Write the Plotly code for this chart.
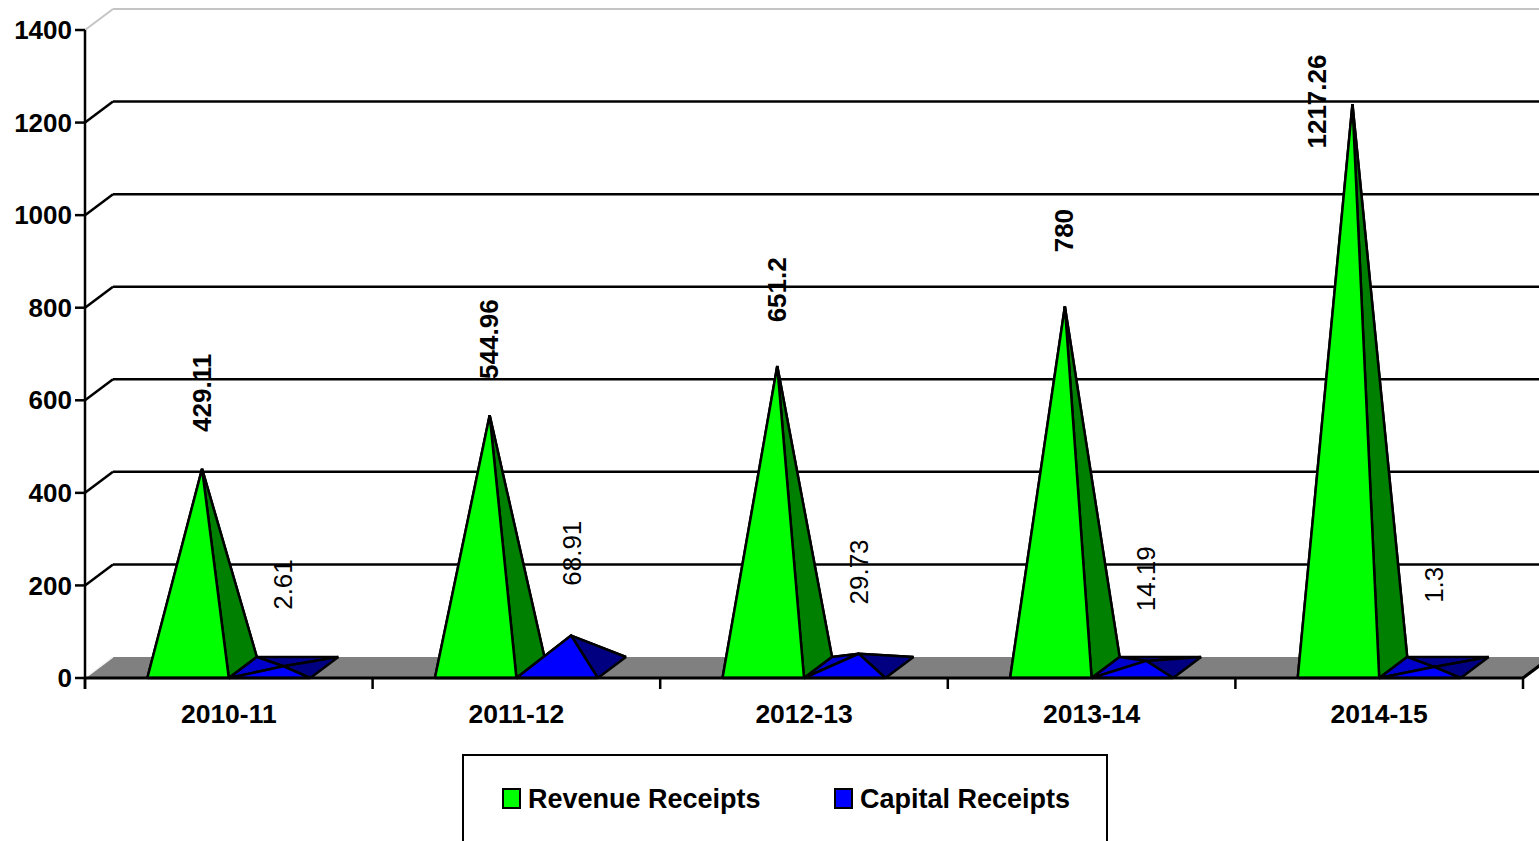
import plotly.graph_objects as go

# ---- data -------------------------------------------------------------
categories = ["2010-11", "2011-12", "2012-13", "2013-14", "2014-15"]
revenue_receipts = [429.11, 544.96, 651.2, 780, 1217.26]
capital_receipts = [2.61, 68.91, 29.73, 14.19, 1.3]
y_tick_values = [0, 200, 400, 600, 800, 1000, 1200, 1400]
series_names = ["Revenue Receipts", "Capital Receipts"]

# ---- page / scale geometry -------------------------------------------
W, H = 1539, 841
M_L, M_R, M_T, M_B = 73, 0, 0, 149
PLOT_W = W - M_L - M_R
PLOT_H = H - M_T - M_B
PX_PER_CAT = 287.6           # width of one category slot
PX_PER_UNIT = 648 / 1400     # vertical pixels per value unit
AXIS_LEFT_PX = 85            # pixel column of the value axis
ZERO_ROW_PX = 678            # pixel row of the value 0

x_min = -0.5 - (AXIS_LEFT_PX - M_L) / PX_PER_CAT
x_max = x_min + PLOT_W / PX_PER_CAT
y_min = -((H - M_B) - ZERO_ROW_PX) / PX_PER_UNIT
y_max = y_min + PLOT_H / PX_PER_UNIT

# oblique depth of the 3-D box, in axis units
DX = 28 / PX_PER_CAT
DY = 21 / PX_PER_UNIT
BAR_W = 0.2833              # base width of each pyramid
TICK_LEN_X = 10 / PX_PER_CAT
TICK_LEN_Y = 11 / PX_PER_UNIT

FONT = "Liberation Sans, Arial, sans-serif"
LINE = 2.5


def paper_x(px):
    return (px - M_L) / PLOT_W


def paper_y(py):
    return ((H - M_B) - py) / PLOT_H


def pyramid(xc, v):
    fl, fr = (xc - BAR_W / 2, 0), (xc + BAR_W / 2, 0)
    bl, br = (xc - BAR_W / 2 + DX, DY), (xc + BAR_W / 2 + DX, DY)
    apex = (xc + DX / 2, v + DY / 2)
    return {
        "back": [bl, br, apex],
        "left": [fl, bl, apex],
        "right": [fr, br, apex],
        "front": [fl, fr, apex],
    }, apex


def poly_trace(polys, fill, width=2.5, line_color="black"):
    xs, ys = [], []
    for p in polys:
        xs += [q[0] for q in p] + [p[0][0], None]
        ys += [q[1] for q in p] + [p[0][1], None]
    return go.Scatter(x=xs, y=ys, mode="lines", fill="toself", fillcolor=fill,
                      line=dict(color=line_color, width=width),
                      hoverinfo="skip", showlegend=False)


def seg_trace(segs, color, width):
    xs, ys = [], []
    for (a, b) in segs:
        xs += [a[0], b[0], None]
        ys += [a[1], b[1], None]
    return go.Scatter(x=xs, y=ys, mode="lines", line=dict(color=color, width=width),
                      hoverinfo="skip", showlegend=False)


fig = go.Figure()

# floor of the 3-D box
floor = [(-0.5, 0), (4.5, 0), (4.5 + DX, DY), (-0.5 + DX, DY)]
fig.add_trace(poly_trace([floor], "#808080", width=0, line_color="#808080"))
fig.add_trace(seg_trace([((-0.5, 0), (-0.5 + DX, DY))], "#f2f2f2", 1.5))

# back-wall gridlines with their side-wall diagonals
grid_dark, grid_light = [], []
for v in y_tick_values[1:]:
    segs = [((-0.5, v), (-0.5 + DX, v + DY)), ((-0.5 + DX, v + DY), (x_max + 1, v + DY))]
    (grid_light if v == y_tick_values[-1] else grid_dark).extend(segs)
fig.add_trace(seg_trace(grid_dark, "black", LINE))
fig.add_trace(seg_trace(grid_light, "#c4c4c4", 2))

# pyramids
face_colors = [
    {"back": "#006000", "left": "#00c000", "right": "#008000", "front": "#00ff00"},
    {"back": "#00008b", "left": "#0000cd", "right": "#000080", "front": "#0000ff"},
]
label_bold = [True, False]
label_rise = [76, 82]
LABEL_SIZE = 26
annotations = []
for s, values in enumerate([revenue_receipts, capital_receipts]):
    faces = {k: [] for k in ["back", "left", "right", "front"]}
    for i, v in enumerate(values):
        xc = i - BAR_W / 2 if s == 0 else i + BAR_W / 2
        f, apex = pyramid(xc, v)
        for k in faces:
            faces[k].append(f[k])
        text = f"{v:g}"
        half_len = 0.556 * LABEL_SIZE * len(text) / 2
        apex_row = ZERO_ROW_PX - apex[1] * PX_PER_UNIT
        xshift, yshift = 0, label_rise[s]
        if apex_row - yshift - half_len < 10:
            xshift, yshift = -35, 3
        annotations.append(dict(
            x=apex[0], y=apex[1], xref="x", yref="y", text=text, showarrow=False,
            textangle=-90, xanchor="center", yanchor="middle",
            xshift=xshift, yshift=yshift,
            font=dict(family=FONT, size=LABEL_SIZE, color="black",
                      weight="bold" if label_bold[s] else "normal")))
    for k in ["back", "left", "right", "front"]:
        fig.add_trace(poly_trace(faces[k], face_colors[s][k]))

# axis lines and tick marks
fig.add_trace(seg_trace([((-0.5, -TICK_LEN_Y), (-0.5, y_tick_values[-1]))], "black", LINE))
fig.add_trace(seg_trace([((-0.5, 0), (4.5, 0)), ((4.5, 0), (4.5 + DX, DY))], "black", LINE + 0.5))
fig.add_trace(seg_trace([((-0.5 - TICK_LEN_X, v), (-0.5, v)) for v in y_tick_values], "black", LINE))
fig.add_trace(seg_trace([((b - 0.5, 0), (b - 0.5, -TICK_LEN_Y)) for b in range(len(categories) + 1)],
                        "black", LINE))

# legend box
shapes = [dict(type="rect", xref="paper", yref="paper",
               x0=paper_x(463), x1=paper_x(1107), y0=paper_y(755), y1=paper_y(870),
               line=dict(color="black", width=2), fillcolor="white", layer="above")]
legend_x = [503, 835]
for s, name in enumerate(series_names):
    shapes.append(dict(type="rect", xref="paper", yref="paper",
                       x0=paper_x(legend_x[s]), x1=paper_x(legend_x[s] + 17),
                       y0=paper_y(789), y1=paper_y(808),
                       line=dict(color="black", width=2),
                       fillcolor=face_colors[s]["front"], layer="above"))
    annotations.append(dict(
        x=paper_x(legend_x[s] + 23), y=paper_y(799), xref="paper", yref="paper",
        text=name, showarrow=False, xanchor="left", yanchor="middle",
        font=dict(family=FONT, size=27, color="black", weight="bold")))

fig.update_layout(
    width=W, height=H,
    margin=dict(l=M_L, r=M_R, t=M_T, b=M_B, pad=0),
    paper_bgcolor="white", plot_bgcolor="white",
    showlegend=False, hovermode=False,
    xaxis=dict(range=[x_min, x_max], tickvals=list(range(len(categories))),
               ticktext=categories, ticks="", showgrid=False, zeroline=False,
               showline=False, ticklabelstandoff=3,
               tickfont=dict(family=FONT, size=26.5, color="black", weight="bold")),
    yaxis=dict(range=[y_min, y_max], tickvals=y_tick_values, ticks="",
               showgrid=False, zeroline=False, showline=False, ticklabelstandoff=0,
               tickfont=dict(family=FONT, size=26, color="black", weight="bold")),
    shapes=shapes, annotations=annotations,
)

fig.write_html("out.html", config={"displayModeBar": False})
